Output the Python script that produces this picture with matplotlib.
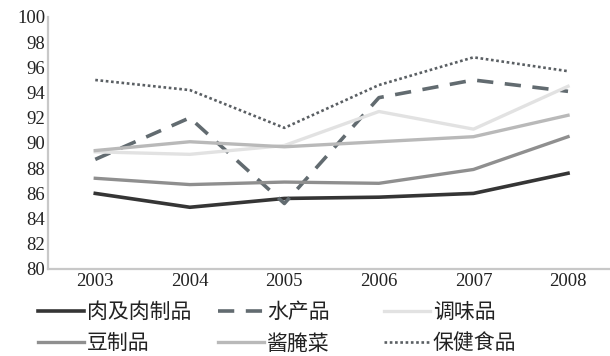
import numpy as np
import matplotlib
matplotlib.use("Agg")
import matplotlib.pyplot as plt

# values
years = ["2003", "2004", "2005", "2006", "2007", "2008"]
meat = [86.0, 84.9, 85.6, 85.7, 86.0, 87.6]          # 肉及肉制品
aquatic = [88.7, 92.0, 85.2, 93.6, 95.0, 94.1]       # 水产品
seasoning = [89.3, 89.1, 89.8, 92.5, 91.1, 94.5]     # 调味品
soy = [87.2, 86.7, 86.9, 86.8, 87.9, 90.5]           # 豆制品
pickles = [89.4, 90.1, 89.7, 90.1, 90.5, 92.2]       # 酱腌菜
health = [95.0, 94.2, 91.2, 94.6, 96.8, 95.7]        # 保健食品

serif = ["Liberation Serif", "Noto Sans CJK SC"]
cjk = ["Noto Sans CJK SC", "DejaVu Sans"]

fig = plt.figure(figsize=(6.1, 3.56), dpi=100)
ax = fig.add_axes([48 / 610, 87 / 356, 562 / 610, 252 / 356])
x = np.arange(len(years))

l1, = ax.plot(x, meat, color="#353535", lw=2.6, label="肉及肉制品")
l2, = ax.plot(x, aquatic, color="#626b70", lw=2.6, dashes=(4.5, 3.2), label="水产品")
l3, = ax.plot(x, seasoning, color="#e2e2e2", lw=2.4, label="调味品")
l4, = ax.plot(x, soy, color="#8f8f8f", lw=2.4, label="豆制品")
l5, = ax.plot(x, pickles, color="#b9b9b9", lw=2.4, label="酱腌菜")
l6, = ax.plot(x, health, color="#5a5f63", lw=1.9, dashes=(1.0, 1.0), label="保健食品")

ax.set_xlim(-0.5, 5.444)
ax.set_ylim(80, 100)
ax.set_yticks(np.arange(80, 101, 2))
ax.set_xticks(x)
ax.set_xticklabels(years)
for s in ["top", "right"]:
    ax.spines[s].set_visible(False)
for s in ["left", "bottom"]:
    ax.spines[s].set_color("#c8c8c8")
    ax.spines[s].set_linewidth(1.6)
ax.tick_params(length=0, labelsize=13.5, colors="#222222", pad=3)
for t in ax.get_xticklabels() + ax.get_yticklabels():
    t.set_family(serif)
ax.tick_params(axis="y", pad=2)

# legend: three columns placed by hand
cols = [((l1, l4), 38), ((l2, l5), 218), ((l3, l6), 384)]
for handles, xpix in cols:
    leg = fig.legend(handles, [h.get_label() for h in handles],
                     loc="upper left", bbox_to_anchor=(xpix / 610, 1 - 301 / 356),
                     frameon=False, borderpad=0, borderaxespad=0,
                     handlelength=2.2, handletextpad=0.15, labelspacing=0.45,
                     prop={"family": cjk, "size": 15})
    for t in leg.get_texts():
        t.set_color("#222222")

fig.savefig("out.png", dpi=100)
